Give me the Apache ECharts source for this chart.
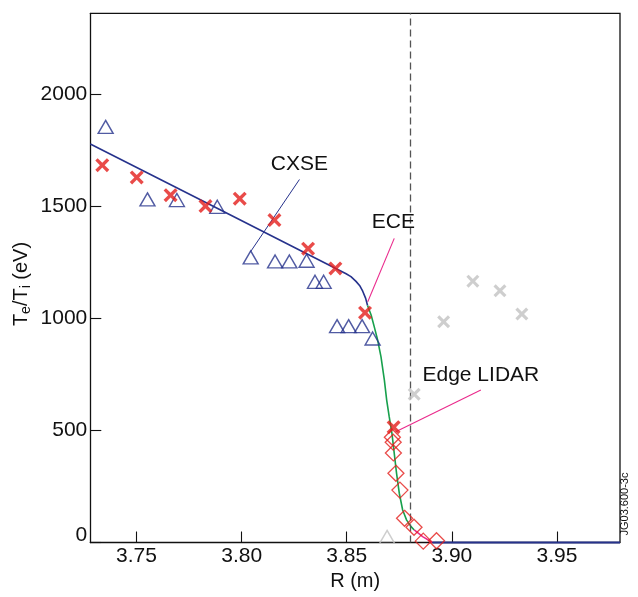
<!DOCTYPE html>
<html>
<head>
<meta charset="utf-8">
<title>Te/Ti profile</title>
<script src="https://cdn.jsdelivr.net/npm/echarts@6/dist/echarts.min.js"></script>
<style>
  html, body { margin: 0; padding: 0; background: #fff; }
  #chart { width: 638px; height: 597px; }
</style>
</head>
<body>
<div id="chart"></div>
<script>
// Major radius R (m) and temperature (eV) for each diagnostic
const cxseR = [3.7353, 3.7552, 3.7692, 3.7884, 3.8043, 3.8159, 3.8227, 3.8309, 3.8349, 3.8390, 3.8454, 3.8509, 3.8573, 3.8623];
const cxseT = [1856, 1532, 1529, 1499, 1273, 1255, 1255, 1258, 1164, 1164, 966, 966, 966, 911];

const cxseOutR = [3.8692];
const cxseOutT = [25];

const eceR = [3.7337, 3.7501, 3.7662, 3.7828, 3.7991, 3.8156, 3.8316, 3.8446, 3.8587, 3.8723];
const eceT = [1685, 1630, 1551, 1502, 1535, 1440, 1312, 1224, 1026, 515];

const eceOutR = [3.8821, 3.8961, 3.9100, 3.9229, 3.9333];
const eceOutT = [662, 986, 1167, 1124, 1020];

const lidarR = [3.8717, 3.8721, 3.8722, 3.8734, 3.8753, 3.8775, 3.8820, 3.8864, 3.8927];
const lidarT = [470, 448, 400, 309, 234, 108, 68, 6, 8];

// Fitted profile pieces
const coreFitR = [3.728, 3.790, 3.8497, 3.852, 3.8544, 3.8563, 3.8576, 3.8590, 3.8599];
const coreFitT = [1779, 1485, 1200, 1187, 1166, 1145, 1122, 1090, 1058];

const pedFitR = [3.8599, 3.8616, 3.8631, 3.8647, 3.8663, 3.8679, 3.8690, 3.8702, 3.8715, 3.8726, 3.8737, 3.8750, 3.8766, 3.8785, 3.8806, 3.8821];
const pedFitT = [1058, 1016, 963, 904, 829, 725, 636, 562, 487, 398, 309, 220, 145, 100, 71, 56];

const footFitR = [3.8821, 3.8861, 3.8908];
const footFitT = [56, 26, 0];

const solFitR = [3.8908, 3.98];
const solFitT = [0, 0];

// Separatrix position
const separatrixR = 3.879;

// Annotation leaders [R, T] and their text anchors
const cxseLeader = [[3.8042, 1298], [3.8275, 1621]];
const eceLeader = [[3.8600, 1075], [3.8726, 1358]];
const lidarLeader = [[3.8733, 495], [3.9138, 681]];
const annotationText = ['CXSE', 'ECE', 'Edge LIDAR'];
const annotationAt = [[3.8275, 1690], [3.8722, 1428], [3.9138, 749]];

// Axis ticks
const xTicks = [3.75, 3.80, 3.85, 3.90, 3.95];
const yTicks = [0, 500, 1000, 1500, 2000];

const zip = (a, b) => a.map((v, i) => [v, b[i]]);

const FONT = "'Liberation Sans', Arial, Helvetica, sans-serif";
const INK = '#111111';
const NAVY = '#26328c';
const RED = '#e41e1c';
const GREY = '#c2c2c2';
const GREEN = '#17a04c';
const MAGENTA = '#ea2a8c';

// Bold diagonal cross as a filled outline
const CROSS = 'path://M0,17L17,0L50,33L83,0L100,17L67,50L100,83L83,100L50,67L17,100L0,83L33,50Z';

const chart = echarts.init(document.getElementById('chart'), null, { renderer: 'canvas' });

const lineSeries = (data, color, width, z) => ({
  type: 'line', data, showSymbol: false, symbol: 'none', clip: false, z,
  lineStyle: { color, width }, silent: true, animation: false
});

chart.setOption({
  animation: false,
  backgroundColor: '#fff',
  grid: { left: 90.3, right: 18, top: 13.3, bottom: 54.5, show: false },
  xAxis: {
    type: 'value', min: 3.728, max: 3.98,
    name: 'R (m)', nameLocation: 'middle', nameGap: 28,
    nameTextStyle: { fontFamily: FONT, fontSize: 20, color: INK },
    axisLine: { show: true, lineStyle: { color: INK, width: 1.3 } },
    axisTick: { show: true, inside: true, length: 11, customValues: xTicks, lineStyle: { color: INK, width: 1.1 } },
    axisLabel: { margin: 3, customValues: xTicks, fontFamily: FONT, fontSize: 21, color: INK,
      formatter: v => v.toFixed(2) },
    splitLine: { show: false }
  },
  yAxis: {
    type: 'value', min: 0, max: 2363,
    axisLine: { show: true, lineStyle: { color: INK, width: 1.3 } },
    axisTick: { show: true, inside: true, length: 11, customValues: yTicks, lineStyle: { color: INK, width: 1.1 } },
    axisLabel: { margin: 3, customValues: yTicks, fontFamily: FONT, fontSize: 21, color: INK,
      formatter: v => (v === 0 ? '{z|0}' : String(v)),
      rich: { z: { fontFamily: FONT, fontSize: 21, color: INK, padding: [0, 0, 14, 0] } } },
    splitLine: { show: false }
  },
  graphic: [
    // frame along the top and right edges of the plot
    { type: 'polyline', silent: true, z: 1,
      shape: { points: [[90.3, 13.3], [620, 13.3], [620, 542.5]] },
      style: { stroke: INK, lineWidth: 1.3, fill: null } },
    { type: 'text', x: 21, y: 284, rotation: Math.PI / 2, silent: true,
      style: {
        text: '{m|T}{s|e}{m|/T}{s|i}{m| (eV)}',
        align: 'center', verticalAlign: 'middle',
        rich: {
          m: { fontFamily: FONT, fontSize: 20, fill: INK, color: INK, lineHeight: 24, verticalAlign: 'middle' },
          s: { fontFamily: FONT, fontSize: 14, fill: INK, color: INK, lineHeight: 14, verticalAlign: 'bottom' }
        }
      } },
    { type: 'text', x: 625, y: 504, rotation: Math.PI / 2, silent: true,
      style: { text: 'JG03.600-3c', font: '11px ' + FONT, fill: INK, align: 'center', verticalAlign: 'middle' } }
  ],
  series: [
    // separatrix
    { type: 'line', data: [], silent: true, z: 1,
      markLine: { silent: true, symbol: ['none', 'none'], label: { show: false },
        lineStyle: { color: '#555', width: 1.3, type: [7, 4] },
        data: [{ xAxis: separatrixR }] } },
    // leaders
    lineSeries(cxseLeader, NAVY, 1, 3),
    lineSeries(eceLeader, MAGENTA, 1.1, 3),
    lineSeries(lidarLeader, MAGENTA, 1.1, 3),
    // fitted profile
    lineSeries(zip(coreFitR, coreFitT), NAVY, 1.6, 4),
    lineSeries(zip(pedFitR, pedFitT), GREEN, 1.6, 4),
    lineSeries(zip(footFitR, footFitT), MAGENTA, 1.6, 4),
    lineSeries(zip(solFitR, solFitT), NAVY, 2, 4),
    // measurements
    { type: 'scatter', data: zip(cxseR, cxseT), symbol: 'triangle', symbolSize: [15, 13], clip: false, z: 5,
      itemStyle: { color: 'rgba(0,0,0,0)', borderColor: NAVY, borderWidth: 1.4 } },
    { type: 'scatter', data: zip(cxseOutR, cxseOutT), symbol: 'triangle', symbolSize: [15, 13], clip: false, z: 5,
      itemStyle: { color: 'rgba(0,0,0,0)', borderColor: GREY, borderWidth: 1.4 } },
    { type: 'scatter', data: zip(lidarR, lidarT), symbol: 'diamond', symbolSize: 16, clip: false, z: 5,
      itemStyle: { color: 'rgba(0,0,0,0)', borderColor: RED, borderWidth: 1.3 } },
    { type: 'scatter', data: zip(eceOutR, eceOutT), symbol: CROSS, symbolSize: 13, clip: false, z: 5,
      itemStyle: { color: GREY } },
    { type: 'scatter', data: zip(eceR, eceT), symbol: CROSS, symbolSize: 14, clip: false, z: 6,
      itemStyle: { color: RED } },
    // annotation labels
    { type: 'scatter', data: annotationAt.map((p, i) => ({ value: p, name: annotationText[i] })),
      symbol: 'circle', symbolSize: 0, clip: false, z: 7, silent: true,
      itemStyle: { color: INK, opacity: 1 },
      label: { show: true, position: 'inside', formatter: p => p.name,
        fontFamily: FONT, fontSize: 21, color: INK, opacity: 1,
        textBorderWidth: 0, textBorderColor: 'transparent' } }
  ]
});
</script>
</body>
</html>
